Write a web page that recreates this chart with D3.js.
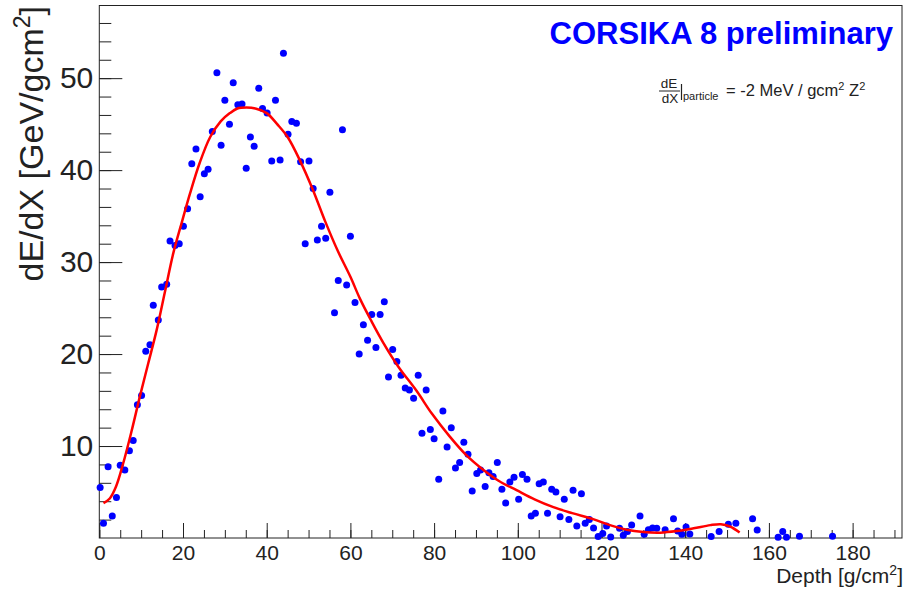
<!DOCTYPE html>
<html>
<head>
<meta charset="utf-8">
<script src="https://cdn.jsdelivr.net/npm/d3@7"></script>
<style>
    body { margin: 0; background: #fff; }
    svg text { font-family: "Liberation Sans", Arial, sans-serif; }
</style>
</head>
<body>
<div id="chart-area"></div>
<script>

// Depth [g/cm2] of each simulated point
const depthValues = [
    0.2, 1.0, 2.1, 3.1, 4.1, 5.0, 6.1, 7.2, 8.1, 9.1,
    10.1, 11.1, 12.1, 12.9, 14.1, 14.9, 16.1, 16.9, 18.1, 19.1,
    20.1, 21.1, 22.1, 23.1, 24.1, 25.1, 26.0, 27.0, 28.1, 29.1,
    30.0, 31.1, 32.0, 33.1, 34.1, 35.1, 36.1, 37.0, 38.1, 39.0,
    40.1, 41.2, 42.1, 43.2, 44.0, 45.1, 46.0, 47.1, 48.1, 49.2,
    50.1, 51.1, 52.1, 53.1, 54.1, 55.1, 56.2, 57.1, 58.1, 59.1,
    60.0, 61.1, 62.1, 63.1, 64.1, 65.1, 66.1, 67.1, 68.1, 69.1,
    70.1, 71.1, 72.1, 73.1, 74.1, 75.1, 76.2, 77.1, 78.1, 79.1,
    80.0, 81.1, 82.1, 83.1, 84.1, 85.1, 86.1, 87.1, 88.1, 89.1,
    90.2, 91.1, 92.2, 93.1, 94.1, 95.1, 96.2, 97.1, 98.1, 99.1,
    100.2, 101.1, 102.2, 103.2, 104.2, 105.1, 106.1, 107.1, 108.1, 109.1,
    110.1, 111.1, 112.2, 113.2, 114.1, 115.2, 116.1, 117.1, 118.1, 119.2,
    120.3, 121.2, 122.2, 124.3, 125.2, 126.2, 127.2, 129.2, 130.2, 131.2,
    132.2, 133.2, 135.2, 137.2, 138.2, 139.2, 140.2, 141.1, 146.2, 148.1,
    150.3, 152.1, 156.1, 157.2, 162.2, 163.3, 164.2, 167.3, 175.2
];

// dE/dX [GeV/gcm2] of each point
const dedxValues = [
    5.5, 1.6, 7.75, 2.4, 4.4, 7.9, 7.4, 9.5, 10.6, 14.5,
    15.5, 20.3, 21.0, 25.3, 23.7, 27.3, 27.6, 32.3, 31.8, 32.0,
    33.9, 35.8, 40.7, 42.3, 37.1, 39.6, 40.1, 44.2, 50.6, 42.7,
    47.6, 45.0, 49.5, 47.1, 47.2, 40.2, 43.6, 42.6, 48.9, 46.7,
    46.2, 41.0, 47.6, 41.1, 52.7, 43.9, 45.3, 45.1, 40.9, 32.0,
    41.0, 38.0, 32.4, 33.9, 32.6, 37.6, 24.5, 28.0, 44.4, 27.5,
    32.8, 25.6, 20.0, 23.2, 21.5, 24.3, 20.7, 24.3, 25.7, 17.5,
    20.5, 19.2, 17.7, 16.3, 16.1, 15.2, 17.7, 11.4, 16.1, 11.8,
    10.8, 6.4, 13.8, 9.9, 12.0, 7.6, 8.2, 10.4, 9.1, 5.1,
    7.0, 7.4, 5.6, 7.1, 6.7, 8.2, 5.3, 3.8, 6.1, 6.6,
    4.2, 6.9, 6.4, 2.4, 2.7, 5.9, 6.1, 2.7, 5.3, 5.0,
    2.3, 4.2, 2.0, 5.2, 1.3, 4.8, 1.6, 2.0, 1.1, 0.15,
    0.5, 1.3, 0.1, 1.05, 0.3, 0.7, 1.4, 2.4, 0.4, 0.9,
    1.1, 1.05, 0.9, 2.1, 0.76, 0.4, 1.2, 0.43, 0.15, 0.7,
    1.5, 1.6, 2.1, 0.87, 0.07, 0.7, 0.07, 0.2, 0.2
];

// Fitted curve
const fitDepth = [1.0, 2.5, 4.0, 5.7, 7.7, 9.7, 11.7, 13.7, 15.7, 17.7, 19.7, 21.7, 24.0, 26.5, 29.0, 31.2, 33.0, 35.2, 37.3, 40.0,
    42.5, 45.0, 48.1, 51.0, 54.0, 57.0, 60.0, 62.3, 65.0, 67.9, 71.5, 75.8, 79.5, 83.8, 87.5, 91.8, 95.5, 99.7, 104.0, 108.5,
    113.0, 118.0, 122.0, 126.0, 130.0, 134.0, 138.0, 142.0, 146.0, 148.5, 150.7, 153.0];
const fitDedx = [3.8, 4.3, 5.6, 8.1, 11.6, 15.4, 19.0, 22.6, 26.8, 31.0, 34.3, 37.5, 40.8, 43.6, 45.3, 46.2, 46.7, 46.8, 46.7, 46.2,
    45.0, 43.6, 40.9, 37.9, 34.4, 31.2, 28.4, 26.0, 23.6, 21.2, 18.6, 16.0, 13.5, 11.0, 9.1, 7.4, 6.2, 5.2, 4.2, 3.35,
    2.7, 2.05, 1.4, 0.9, 0.65, 0.58, 0.75, 1.05, 1.4, 1.5, 1.25, 0.6];

// Axis ticks
const xMajorTicks = [0, 20, 40, 60, 80, 100, 120, 140, 160, 180];
const xMinorTicks = d3.range(0, 191, 5);
const yMajorTicks = [10, 20, 30, 40, 50];
const yMinorTicks = d3.range(2, 57, 2);

class DepthProfile {

    constructor(parentElement) {
        this.parentElement = parentElement;
        this.points = depthValues.map((d, i) => ({ depth: d, dedx: dedxValues[i] }));
        this.fit = fitDepth.map((d, i) => ({ depth: d, dedx: fitDedx[i] }));

        this.initVis();
    }

    initVis() {
        let vis = this;

        vis.margin = { top: 5.5, right: 5, bottom: 51, left: 99.3 };
        vis.width = 907 - vis.margin.left - vis.margin.right;
        vis.height = 589 - vis.margin.top - vis.margin.bottom;

        vis.svg = d3.select("#" + vis.parentElement).append("svg")
            .attr("width", 907)
            .attr("height", 589)
            .append("g")
            .attr("transform", "translate(" + vis.margin.left + "," + vis.margin.top + ")");

        // ROOT-like frame ranges
        vis.x = d3.scaleLinear().domain([0, 191.8]).range([0, vis.width]);
        vis.y = d3.scaleLinear().domain([0, 57.9]).range([vis.height, 0]);

        // minor ticks first (no labels)
        vis.svg.append("g")
            .attr("class", "x-minor")
            .attr("transform", "translate(0," + vis.height + ")")
            .call(d3.axisBottom(vis.x).tickValues(xMinorTicks).tickSizeInner(-8).tickSizeOuter(0).tickFormat(""));

        vis.svg.append("g")
            .attr("class", "x-axis")
            .attr("transform", "translate(0," + vis.height + ")")
            .call(d3.axisBottom(vis.x).tickValues(xMajorTicks).tickSizeInner(-15).tickSizeOuter(0).tickPadding(7));

        vis.svg.append("g")
            .attr("class", "y-minor")
            .call(d3.axisLeft(vis.y).tickValues(yMinorTicks).tickSizeInner(-12).tickSizeOuter(0).tickFormat(""));

        vis.svg.append("g")
            .attr("class", "y-axis")
            .call(d3.axisLeft(vis.y).tickValues(yMajorTicks).tickSizeInner(-23).tickSizeOuter(0).tickPadding(6));

        vis.svg.selectAll(".domain").remove();
        vis.svg.selectAll(".tick line").attr("stroke", "#222").attr("stroke-width", 1);
        vis.svg.selectAll(".x-axis text")
            .style("font-size", "21px")
            .attr("fill", "#222");
        vis.svg.selectAll(".y-axis text")
            .style("font-size", "30px")
            .attr("fill", "#222");

        // frame
        vis.svg.append("rect")
            .attr("x", 0)
            .attr("y", 0)
            .attr("width", vis.width)
            .attr("height", vis.height)
            .attr("fill", "none")
            .attr("stroke", "#222")
            .attr("stroke-width", 1);

        // X-axis title
        let xTitle = vis.svg.append("text")
            .attr("x", vis.width + 1)
            .attr("y", vis.height + 45)
            .attr("text-anchor", "end")
            .style("font-size", "21px")
            .attr("fill", "#222");
        xTitle.append("tspan").text("Depth [g/cm");
        xTitle.append("tspan").attr("dy", -8).style("font-size", "14px").text("2");
        xTitle.append("tspan").attr("dy", 8).text("]");

        // Y-axis title
        let yTitle = vis.svg.append("text")
            .attr("transform", "translate(" + (43 - vis.margin.left) + ",0.5)rotate(-90)")
            .attr("text-anchor", "end")
            .style("font-size", "34px")
            .attr("fill", "#222");
        yTitle.append("tspan").text("dE/dX [GeV/gcm");
        yTitle.append("tspan").attr("dy", -13).style("font-size", "23px").text("2");
        yTitle.append("tspan").attr("dy", 13).text("]");

        vis.updateVis();
    }

    updateVis() {
        let vis = this;

        // Data points
        vis.svg.selectAll(".point")
            .data(vis.points)
            .join("circle")
            .attr("class", "point")
            .attr("cx", d => vis.x(d.depth))
            .attr("cy", d => vis.y(d.dedx))
            .attr("r", 3.5)
            .attr("fill", "#0000ff");

        // Fit curve
        let line = d3.line()
            .x(d => vis.x(d.depth))
            .y(d => vis.y(d.dedx))
            .curve(d3.curveCatmullRom);

        vis.svg.append("path")
            .datum(vis.fit)
            .attr("d", line)
            .attr("fill", "none")
            .attr("stroke", "#ff0000")
            .attr("stroke-width", 2.5);

        // Title
        vis.svg.append("text")
            .attr("x", 893 - vis.margin.left)
            .attr("y", 44 - vis.margin.top)
            .attr("text-anchor", "end")
            .style("font-size", "31px")
            .style("font-weight", "bold")
            .attr("fill", "#0000ff")
            .text("CORSIKA 8 preliminary");

        // Annotation: dE/dX|particle = -2 MeV / gcm2 Z2
        let note = vis.svg.append("g")
            .attr("transform", "translate(" + (-vis.margin.left) + "," + (-vis.margin.top) + ")")
            .attr("fill", "#222");

        note.append("text").attr("x", 669).attr("y", 88).attr("text-anchor", "middle")
            .style("font-size", "13.5px").text("dE");
        note.append("line").attr("x1", 659).attr("x2", 680).attr("y1", 91).attr("y2", 91)
            .attr("stroke", "#222").attr("stroke-width", 1);
        note.append("text").attr("x", 670).attr("y", 103).attr("text-anchor", "middle")
            .style("font-size", "13.5px").text("dX");
        note.append("line").attr("x1", 681.5).attr("x2", 681.5).attr("y1", 84).attr("y2", 100)
            .attr("stroke", "#222").attr("stroke-width", 1.2);
        note.append("text").attr("x", 683).attr("y", 100)
            .style("font-size", "11px").text("particle");

        let rhs = note.append("text").attr("x", 726).attr("y", 96).style("font-size", "16.5px");
        rhs.append("tspan").text("= -2 MeV / gcm");
        rhs.append("tspan").attr("dy", -6).style("font-size", "11px").text("2");
        rhs.append("tspan").attr("dy", 6).text(" Z");
        rhs.append("tspan").attr("dy", -6).style("font-size", "11px").text("2");
    }
}

new DepthProfile("chart-area");
</script>
</body>
</html>
